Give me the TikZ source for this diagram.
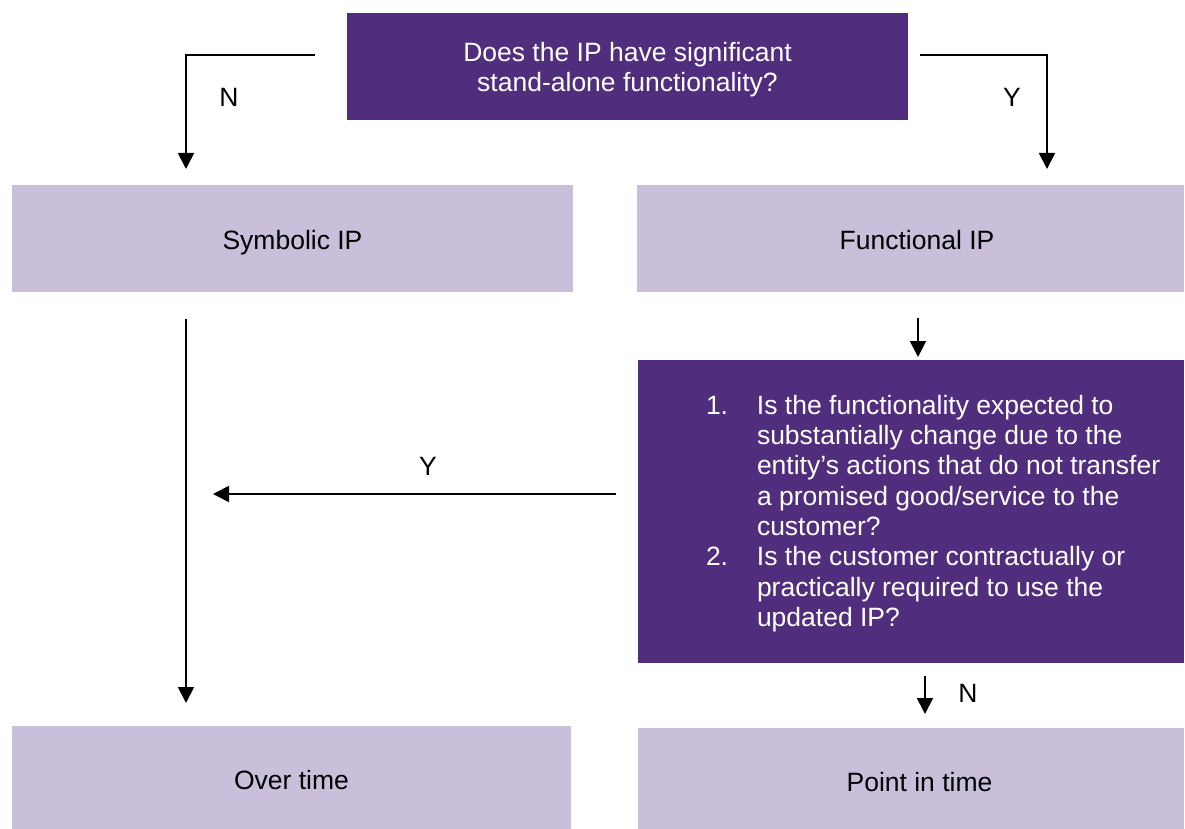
\documentclass[tikz,border=0pt]{standalone}
\usepackage{fontspec}
\setmainfont{Liberation Sans}
\usetikzlibrary{arrows.meta}
\definecolor{dpurple}{HTML}{512D7E}
\definecolor{lpurple}{HTML}{C9BFDA}
\begin{document}
\begin{tikzpicture}[x=1pt,y=-1pt,
  box/.style={inner sep=0pt,draw=none,align=center,font=\fontsize{26.5}{30}\selectfont},
  dark/.style={box,fill=dpurple,text=white},
  light/.style={box,fill=lpurple,text=black,text depth=6pt},
  qtext/.style={inner sep=0pt,text=white,align=left,font=\fontsize{26.5}{30.3}\selectfont},
  conn/.style={line width=1.8pt,-{Triangle[width=16pt,length=16pt]}},
  lbl/.style={inner sep=0pt,font=\fontsize{26.5}{30}\selectfont}]
\useasboundingbox (0,0) rectangle (1185,829);
\node[dark,minimum width=561pt,minimum height=107pt,text depth=0pt] (top) at (627.5,66.5)
  {Does the IP have significant\\stand-alone functionality?};
\node[light,minimum width=561pt,minimum height=107pt,text height=28pt] (sym) at (292.5,238.5) {Symbolic IP};
\node[light,minimum width=547pt,minimum height=107pt,text height=27pt] (func) at (910.5,238.5) {\hspace*{13pt}Functional IP};
\node[dark,minimum width=546pt,minimum height=303pt] (q) at (911,511.5) {};
\node[qtext,anchor=west] (qt) at ([xshift=68pt,yshift=-2pt]q.west)
  {\makebox[51pt][l]{1.}Is the functionality expected to\\
   \hspace*{51pt}substantially change due to the\\
   \hspace*{51pt}entity’s actions that do not transfer\\
   \hspace*{51pt}a promised good/service to the\\
   \hspace*{51pt}customer?\\
   \makebox[51pt][l]{2.}Is the customer contractually or\\
   \hspace*{51pt}practically required to use the\\
   \hspace*{51pt}updated IP?};
\node[light,minimum width=559pt,minimum height=103pt,text height=29.5pt] (over) at (291.5,777.5) {Over time};
\node[light,minimum width=546pt,minimum height=101pt,text height=32.5pt] (pit) at (911,778.5) {\hspace*{17pt}Point in time};
\coordinate (a1) at (315,55);
\coordinate (a2) at (186,169);
\coordinate (b1) at (920,55);
\coordinate (b2) at (1047,169);
\coordinate (c1) at (918,318);
\coordinate (c2) at (918,357);
\coordinate (d1) at (616,494);
\coordinate (d2) at (213,494);
\coordinate (e1) at (186,319);
\coordinate (e2) at (186,703);
\coordinate (f1) at (925,676);
\coordinate (f2) at (925,714);
\draw[conn] (a1) -| (a2);
\draw[conn] (b1) -| (b2);
\draw[conn] (c1) -- (c2);
\draw[conn] (d1) -- (d2);
\draw[conn] (e1) -- (e2);
\draw[conn] (f1) -- (f2);
\node[lbl] (lN1) at (229,97) {N};
\node[lbl] (lY1) at (1012,97) {Y};
\node[lbl] (lY2) at (428,466) {Y};
\node[lbl] (lN2) at (968,693) {N};
\end{tikzpicture}
\end{document}
